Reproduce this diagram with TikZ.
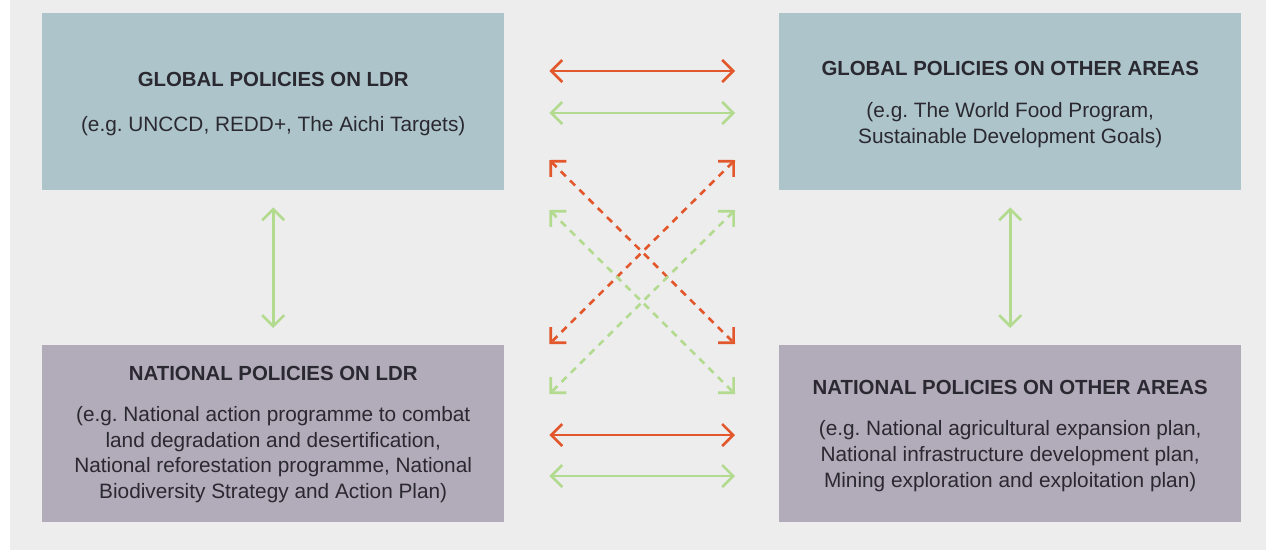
\documentclass[tikz,border=0pt]{standalone}
\usepackage{fontspec}
\setmainfont{Liberation Sans}
\usetikzlibrary{arrows.meta}
\definecolor{bgc}{HTML}{EDEDED}
\definecolor{globc}{HTML}{ADC5CA}
\definecolor{natc}{HTML}{B2ABBA}
\definecolor{orc}{HTML}{E2572B}
\definecolor{grc}{HTML}{B3DB8F}
\definecolor{txc}{HTML}{2A2830}
\tikzset{
  policybox/.style={rectangle, draw=none, minimum width=462pt, minimum height=177pt, inner sep=0pt, anchor=north west},
  policytext/.style={inner sep=0pt, align=center, text=txc, font=\frenchspacing\fontsize{20.8}{25.6}\selectfont},
  link/.style={line width=2.6pt, {Straight Barb[length=11pt,width=22pt]}-{Straight Barb[length=11pt,width=22pt]}},
  orlink/.style={link, draw=orc},
  grlink/.style={link, draw=grc},
  dlink/.style={dash pattern=on 7pt off 6pt}
}
\newcommand{\ttl}[1]{{\fontsize{20.4}{22}\selectfont\bfseries #1}}
\begin{document}
\begin{tikzpicture}[x=1pt,y=-1pt]
\useasboundingbox (0,0) rectangle (1266,550);
\fill[white] (0,0) rectangle (1266,550);
\fill[bgc] (10,0) rectangle (1266,550);
\node[policybox, fill=globc] (tl) at (42,13) {};
\node[policybox, fill=globc] (tr) at (779,13) {};
\node[policybox, fill=natc] (bl) at (42,345) {};
\node[policybox, fill=natc] (br) at (779,345) {};
\node[policytext] (tltext) at ([shift={(0,2.5)}]tl.center) {\ttl{GLOBAL POLICIES ON LDR}\\[19pt](e.g. UNCCD, REDD+, The Aichi Targets)};
\node[policytext] (trtext) at ([shift={(0,2.5)}]tr.center) {\ttl{GLOBAL POLICIES ON OTHER AREAS}\\[17pt](e.g. The World Food Program,\\Sustainable Development Goals)};
\node[policytext] (bltext) at ([shift={(0,1)}]bl.center) {\ttl{NATIONAL POLICIES ON LDR}\\[15pt](e.g. National action programme to combat\\land degradation and desertification,\\National reforestation programme, National\\Biodiversity Strategy and Action Plan)};
\node[policytext] (brtext) at ([shift={(0,2)}]br.center) {\ttl{NATIONAL POLICIES ON OTHER AREAS}\\[16pt](e.g. National agricultural expansion plan,\\National infrastructure development plan,\\Mining exploration and exploitation plan)};
% horizontal top
\draw[orlink] ([shift={(45,58)}]tl.north east) -- ([shift={(-44,58)}]tr.north west);
\draw[grlink] ([shift={(45,100)}]tl.north east) -- ([shift={(-44,100)}]tr.north west);
% vertical
\draw[grlink] ([shift={(0,17)}]tl.south) -- ([shift={(0,-17)}]bl.north);
\draw[grlink] ([shift={(0,17)}]tr.south) -- ([shift={(0,-17)}]br.north);
% diagonals
\draw[orlink, dlink] ([shift={(45,147)}]tl.north east) -- ([shift={(-44,-1)}]br.north west);
\draw[orlink, dlink] ([shift={(-44,147)}]tr.north west) -- ([shift={(45,-1)}]bl.north east);
\draw[grlink, dlink] ([shift={(45,197)}]tl.north east) -- ([shift={(-44,49)}]br.north west);
\draw[grlink, dlink] ([shift={(-44,197)}]tr.north west) -- ([shift={(45,49)}]bl.north east);
% horizontal bottom
\draw[orlink] ([shift={(45,90)}]bl.north east) -- ([shift={(-44,90)}]br.north west);
\draw[grlink] ([shift={(45,131)}]bl.north east) -- ([shift={(-44,131)}]br.north west);
\end{tikzpicture}
\end{document}
